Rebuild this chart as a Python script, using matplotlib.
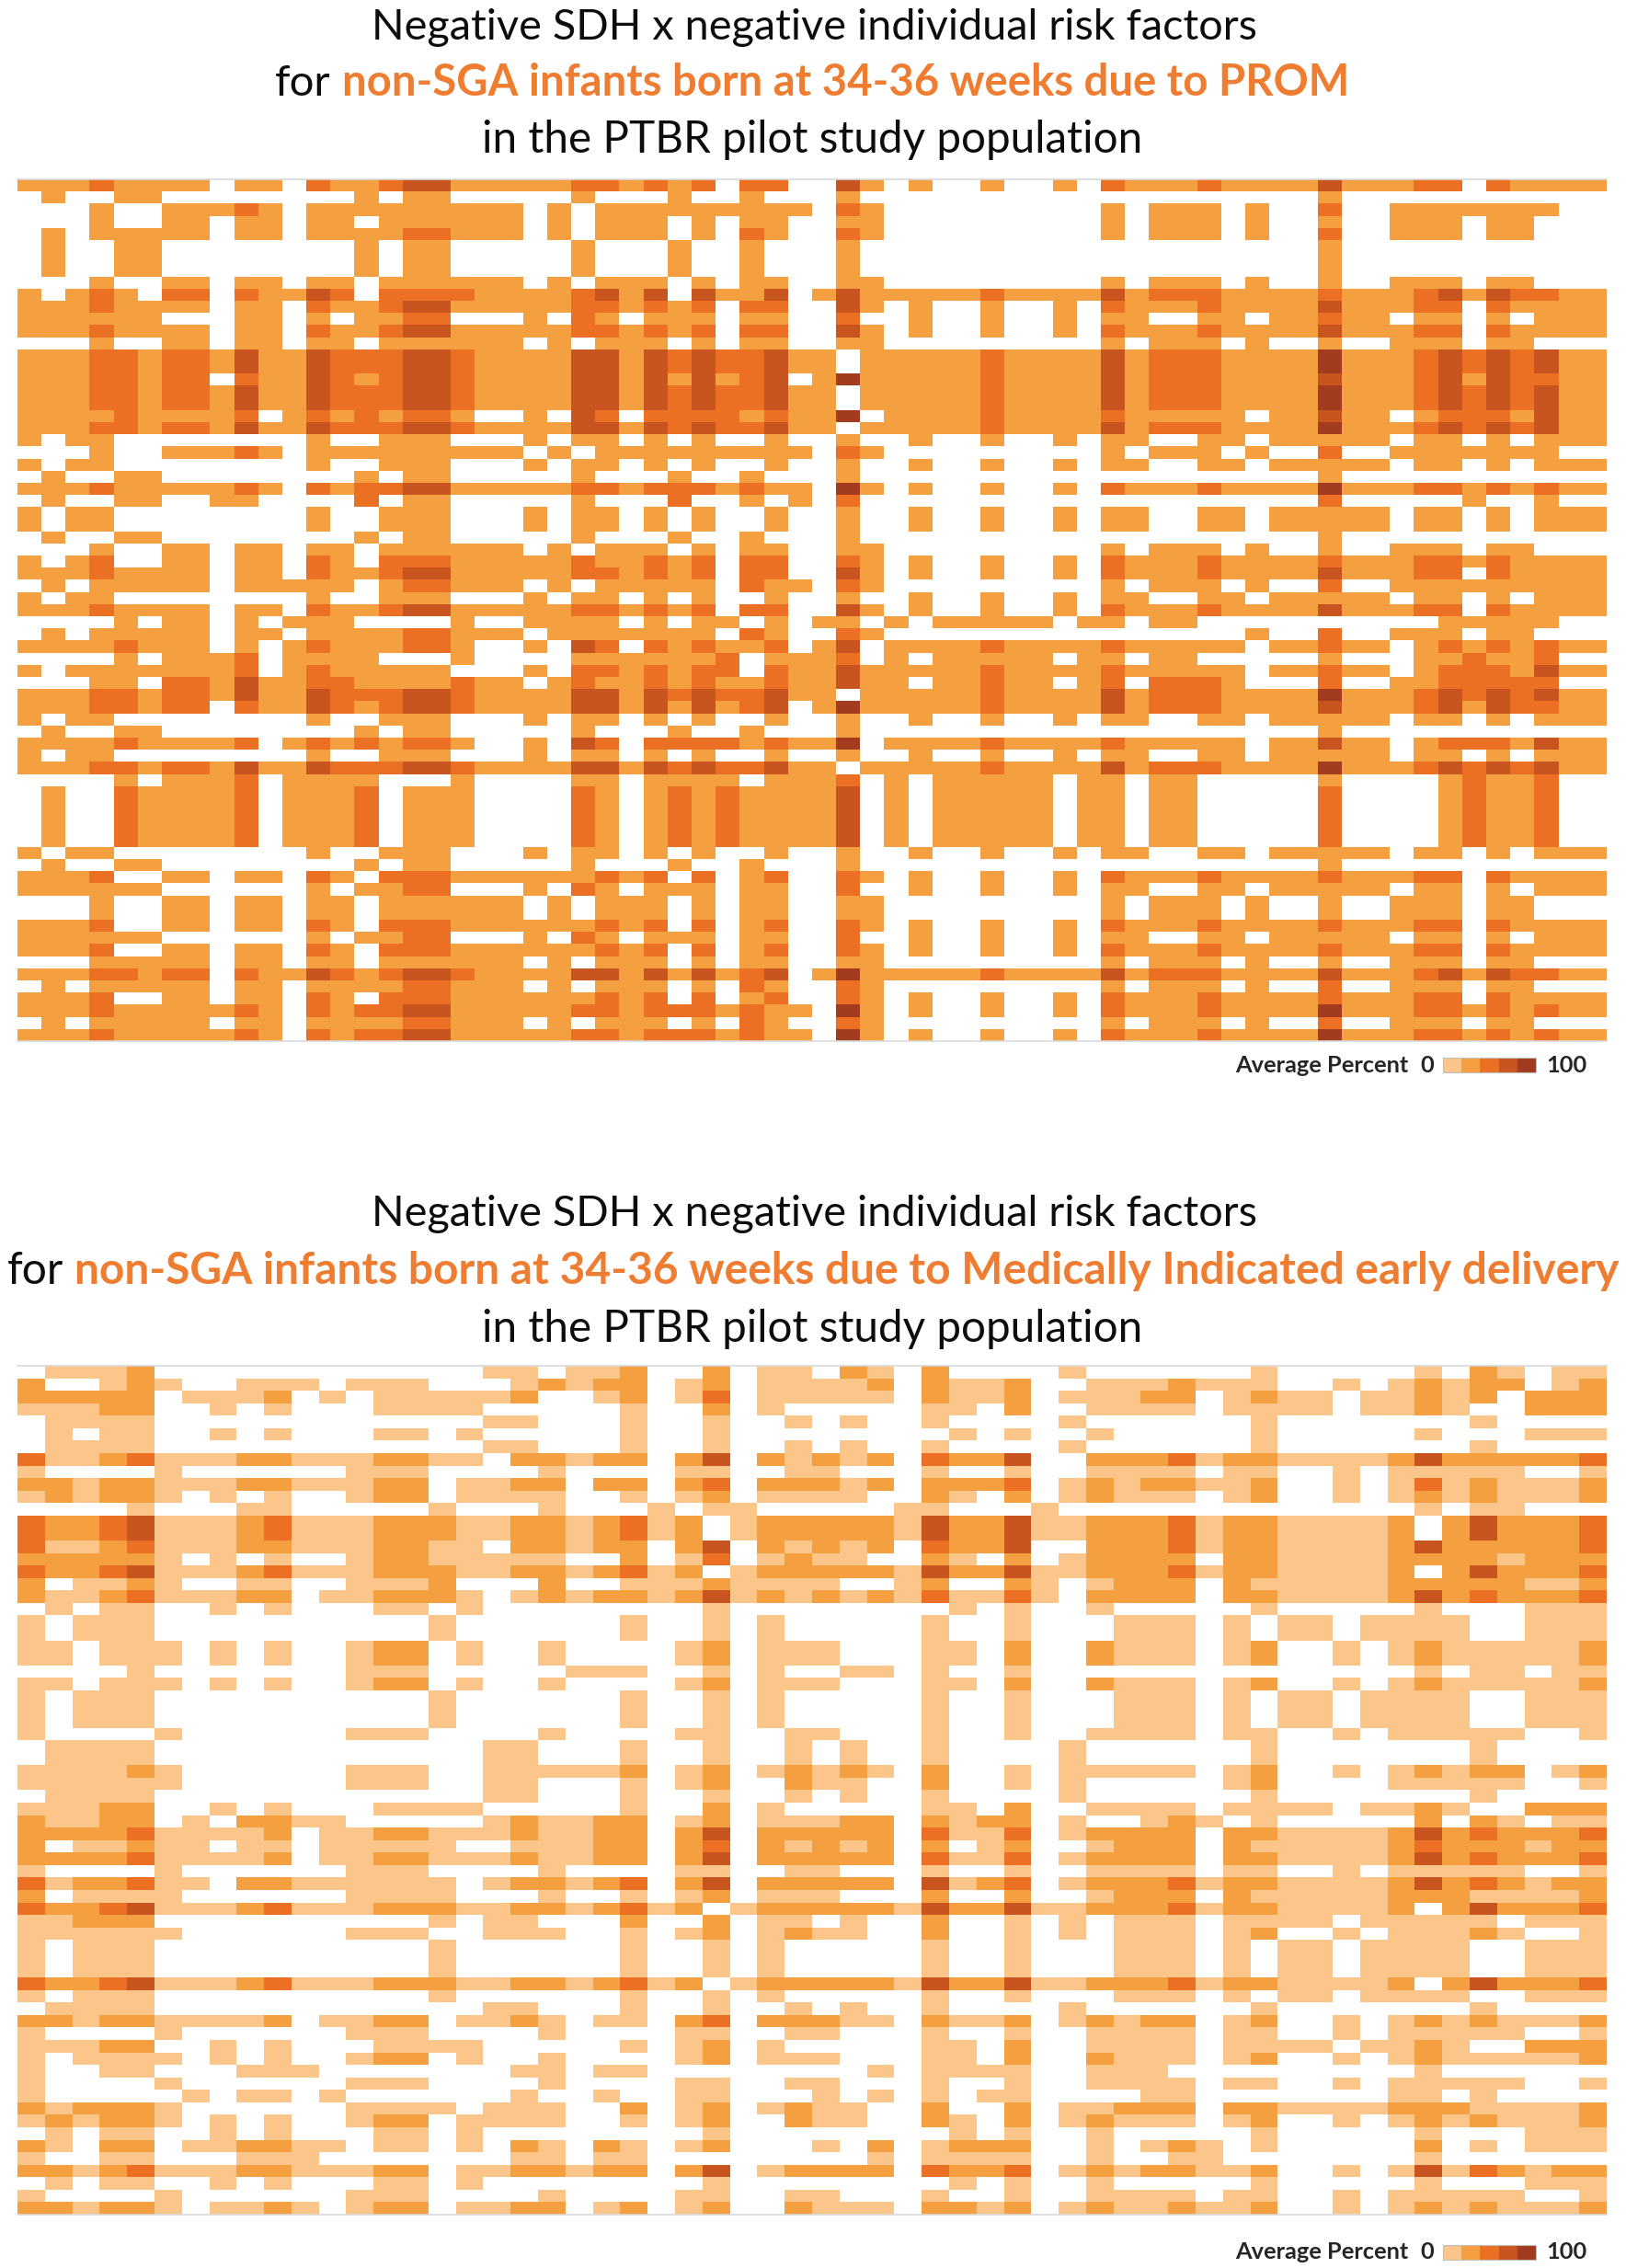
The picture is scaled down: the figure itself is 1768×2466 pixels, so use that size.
import matplotlib
matplotlib.use("Agg")
import matplotlib.pyplot as plt
import numpy as np
from matplotlib.colors import ListedColormap, BoundaryNorm

# ---------------------------------------------------------------------------
# DATA  (cell level: 0 = white/none, 1..5 = increasing "Average Percent" bins)
# each pattern = (left block, right block); spaces are only for readability
# ---------------------------------------------------------------------------
TOP_NCOLS = 66
TOP_PATTERNS = {
    "A":   ("2223 2222 0220 3223 4422 2223 3232 3033", "0042 0200 2002 0322 2322 2242 2233 0322 22"),
    "B":   ("0200 2200 0000 0020 2200 0002 0002 0020", "0020 0000 0000 0000 0000 0020 0000 0000 00"),
    "C":   ("0002 0022 2320 2222 2222 2020 2222 2222", "2032 0000 0000 0202 2202 0030 0222 2222 00"),
    "D":   ("0002 0022 0220 2202 2222 2020 2220 2022", "0022 0000 0000 0202 2202 0020 0222 0220 00"),
    "R4":  ("0202 2222 0220 2222 3322 2020 2220 2032", "0032 0000 0000 0202 2202 0030 0222 0220 00"),
    "R9":  ("2023 2033 0322 4303 3332 2223 4240 4224", "0242 2222 3222 2423 3322 2232 2234 2433 22"),
    "R11": ("2222 2200 0220 2022 3300 0203 2022 2022", "0030 0200 2002 0220 0220 2232 2022 0202 22"),
    "F":   ("2223 3233 2422 4333 4432 2224 4243 4334", "2202 2222 3222 2423 3322 2252 2234 3434 22"),
    "F2":  ("2223 3233 0322 4323 4432 2224 4242 4234", "0252 2222 3222 2423 3322 2242 2234 2433 22"),
    "G":   ("2222 3222 2302 3232 3320 0204 3033 3323", "2250 2222 3222 2322 2220 2242 2023 3324 22"),
    "E":   ("2022 0000 0000 2002 2200 0202 2020 2002", "0020 0200 2002 0220 0220 2222 2022 0202 22"),
    "H":   ("2223 2222 2320 3233 4422 2223 3233 3232", "2052 0200 2002 0322 2322 2252 2233 2323 22"),
    "R26": ("0200 2200 2200 0030 2200 0002 0003 0020", "2030 0000 0000 0000 0000 0030 0000 2002 00"),
    "R31": ("2023 0022 0220 3203 3322 2223 2232 3033", "0032 0200 2002 0322 2322 2232 2233 2322 22"),
    "R33": ("0202 2222 0222 2202 3322 2020 2222 2032", "2032 0000 0000 0202 2202 0030 0222 2222 22"),
    "R36": ("0000 2022 0202 2200 0020 0222 2020 2202", "0220 2022 2220 2202 2000 0000 0002 2222 00"),
    "R37": ("0202 2222 0220 2222 3322 2022 2222 2032", "0032 0000 0000 0000 0002 0030 0222 0220 00"),
    "R38": ("2222 3222 0202 3222 3320 0204 3032 3223", "0240 2222 3222 2322 2220 2232 2023 2323 22"),
    "R39": ("0000 2022 2302 2220 0020 0002 2222 2302", "2230 2022 2220 2202 2000 0020 0022 3223 00"),
    "R40": ("2022 2222 2302 3222 2200 0203 3232 3303", "2242 2222 3222 2322 2220 2232 2023 3324 22"),
    "R41": ("0002 2033 2422 3322 2232 2023 2232 3223", "2242 2022 3220 2303 3320 0030 0223 3333 00"),
    "R49": ("0000 2022 2302 2220 0020 0002 2022 2202", "2230 2022 2220 2202 2000 0020 0002 3223 00"),
    "R50": ("0200 3222 2302 2230 2220 0003 2023 2322", "2240 2022 2220 2202 2000 0030 0002 3223 00"),
    "I":   ("2223 0022 0220 3203 3322 2222 3230 3023", "0032 0200 2002 0322 2322 2232 2233 0322 22"),
    "R58": ("2222 2200 0000 2022 3300 0203 2022 2022", "0030 0200 2002 0220 0220 2222 2022 0202 22"),
    "R64": ("0002 2222 0220 2202 2222 2020 2220 2022", "0022 0000 0000 0202 2202 0020 0222 0220 00"),
}
TOP_ROWS = [
    "A", "B", "C", "D", "R4", "B", "B", "B", "D", "R9",
    "A", "R11", "A", "D", "F", "F", "F2", "F", "F", "G",
    "F", "E", "C", "E", "B", "H", "R26", "E", "E", "B",
    "D", "R31", "A", "R33", "E", "A", "R36", "R37", "R38", "R39",
    "R40", "R41", "F", "F2", "E", "B", "G", "E", "F", "R49",
    "R50", "R50", "R50", "R50", "R50", "E", "B", "I", "R58", "D",
    "D", "I", "R58", "I", "R64", "F2", "R4", "I", "H", "R4",
    "H",
]

BOT_NCOLS = 58
BOT_PATTERNS = {
    "b3":  ("1112 2001 0100 0111 1000 0010 0201", "0000 0110 2001 1110 1111 0112 1002 22"),
    "b4":  ("0111 1000 0000 0000 0110 0010 0100", "1010 0100 0010 0000 0100 0000 0100 00"),
    "b5":  ("0101 1001 0100 0110 1000 0010 0100", "0000 0010 1001 0000 0100 0001 0001 11"),
    "b7":  ("3112 3111 2211 1221 1022 1220 2402", "1212 0322 4002 2231 2211 1124 2222 23"),
    "b8":  ("1000 0100 0000 1110 0001 0000 1100", "1100 0100 1001 1110 1100 1011 1110 01"),
    "b12": ("3223 4111 2311 1222 1122 1231 2012", "2222 1422 4112 2231 2211 1120 2422 23"),
    "b19": ("0101 1001 0100 0110 1000 0000 0100", "0000 0010 1001 0000 0100 0001 0001 11"),
    "b20": ("1011 1000 0000 0001 0000 0010 0101", "0000 0100 1000 1110 1011 0111 1001 11"),
    "b22": ("1101 1101 0100 1220 1001 0000 1201", "1100 0110 2002 1110 1200 1012 1111 12"),
    "r0":  ("0111 2000 0000 0000 0110 1120 0201", "1021 0200 0010 0000 0100 0001 0210 11"),
    "r1":  ("2001 2100 1110 1110 0012 1220 1201", "1112 0211 2001 1121 1100 1012 1220 12"),
    "r2":  ("2222 2011 1201 0111 1120 0120 1301", "1111 0211 2011 1220 1211 0112 1202 22"),
    "r9":  ("2212 2111 2211 1220 1122 0220 2302", "2212 0222 3012 1221 1200 1013 1211 12"),
    "r10": ("1212 2101 0100 1220 1111 0010 1201", "1110 0210 2012 1110 1200 1012 1211 12"),
    "r11": ("0000 1000 1100 0001 0001 0001 0110", "0000 1100 0100 0000 0000 0001 0110 00"),
    "r15": ("2222 2101 0100 1221 1111 0020 1301", "2110 0210 2012 2220 2211 1122 2212 22"),
    "r17": ("2011 2100 1100 1112 0002 0011 1211", "1100 1200 2101 2220 2111 1122 2221 12"),
    "r18": ("2112 3111 2201 1222 1012 1221 2412", "1212 1311 3102 2220 2211 1124 2322 23"),
    "r24": ("0000 1000 0000 1110 0000 1110 0101", "0011 0100 1000 0000 0000 0001 0110 11"),
    "r32": ("1111 2100 0000 1110 0111 1120 1201", "2121 0200 1011 1110 1200 1012 1220 12"),
    "r33": ("1111 1100 0000 1110 0110 0010 1200", "2110 0200 1010 0000 1200 0011 1110 01"),
    "r36": ("2112 2010 2211 0000 0121 1220 1201", "1122 0212 2010 0121 0100 0002 0210 11"),
    "r37": ("2222 3111 1201 1221 1121 1220 2402", "2222 0311 3012 2220 2211 1124 2322 23"),
    "r38": ("2011 2110 1101 1111 0011 1220 2302", "1212 0201 2001 2220 2111 1123 2221 22"),
    "r41": ("3122 3110 2211 1111 0122 1230 2402", "2222 0412 3012 2231 2211 1124 2321 22"),
    "r42": ("2011 1100 0000 1111 0001 0010 1201", "1100 0200 2001 2220 2111 1122 2111 12"),
    "r44": ("1122 2000 0000 0001 0110 0020 0201", "1010 0200 1010 1110 1111 0111 1101 11"),
    "r45": ("1111 1100 0000 1110 0111 0010 1201", "2110 0200 1010 1110 1200 1011 1210 01"),
    "r52": ("2212 2111 1201 1220 1121 0110 2302", "2211 0211 2012 1220 1200 1012 1211 12"),
    "r54": ("1112 2001 0100 0111 1000 0010 1201", "0000 0110 2001 1110 1111 0112 1002 22"),
    "r55": ("1011 1101 0100 1220 1001 0000 1201", "1100 0110 2002 1110 1200 1012 1111 12"),
    "r56": ("1001 1000 1110 0000 0011 0110 0000", "0001 0111 1001 1100 0000 0001 0000 00"),
    "r58": ("1000 0010 1101 0000 0010 0100 1100", "0101 0101 1000 0110 0000 0011 0100 00"),
    "r59": ("2122 2100 0000 1111 0111 0020 1201", "2110 0200 2011 2220 2211 1122 2111 12"),
    "r60": ("1212 2101 0100 1220 1111 0010 1200", "2110 0210 2012 1110 1200 1012 1211 12"),
    "r62": ("2102 2011 2211 0110 1021 0210 1200", "0102 0122 2001 0121 0100 0002 0101 11"),
    "r63": ("1001 1000 1110 0000 0011 0110 0000", "0001 0111 1001 0011 0000 0001 0000 00"),
    "r64": ("2212 3111 2211 1220 1122 1220 2401", "2222 0322 3012 1221 1200 1014 1321 22"),
    "r67": ("2212 2101 1210 1220 1122 0120 1200", "2111 0221 2012 1121 1200 1012 1211 12"),
}
BOT_ROWS = [
    "r0", "r1", "r2", "b3", "b4", "b5", "b4", "b7", "b8", "r9",
    "r10", "r11", "b12", "b12", "b7", "r15", "b12", "r17", "r18", "b19",
    "b20", "b20", "b22", "b22", "r24", "b22", "b20", "b20", "b20", "b8",
    "b4", "b4", "r32", "r33", "b4", "b3", "r36", "r37", "r38", "r37",
    "b8", "r41", "r42", "b12", "r44", "r45", "b20", "b20", "b20", "b12",
    "b20", "b4", "r52", "b8", "r54", "r55", "r56", "b8", "r58", "r59",
    "r60", "b19", "r62", "r63", "r64", "b19", "b8", "r67",
]

LEVEL_COLORS = ["#FFFFFF", "#FCC589", "#F4A041", "#EB7024", "#C8551F", "#A23B1F"]
LEGEND_LEVELS = [1, 2, 3, 4, 5]

TITLE_LINE1 = "Negative SDH x negative individual risk factors"
TITLE_LINE3 = "in the PTBR pilot study population"
TOP_HIGHLIGHT = "non-SGA infants born at 34-36 weeks due to PROM"
BOT_HIGHLIGHT = "non-SGA infants born at 34-36 weeks due to Medically Indicated early delivery"
LEGEND_LABEL = "Average Percent"
LEGEND_MIN, LEGEND_MAX = "0", "100"

# ---------------------------------------------------------------------------
W, H = 1768, 2466
FONT = ["Lato", "DejaVu Sans"]
plt.rcParams["font.family"] = FONT
BLACK = "#0D0D0D"
ORANGE = "#EE7D31"

fig = plt.figure(figsize=(W / 100, H / 100), dpi=100)
fig.patch.set_facecolor("white")
renderer = fig.canvas.get_renderer()

cmap = ListedColormap(LEVEL_COLORS)
norm = BoundaryNorm(np.arange(-0.5, len(LEVEL_COLORS) + 0.5, 1), len(LEVEL_COLORS))


def build(patterns, keys, ncols):
    rows = []
    for k in keys:
        left, right = patterns[k]
        s = (left + right).replace(" ", "")
        vals = [int(c) for c in s][:ncols]
        vals += [0] * (ncols - len(vals))
        rows.append(vals)
    return np.array(rows)


def add_heatmap(mat, x0, y0, x1, y1):
    ax = fig.add_axes([x0 / W, 1 - y1 / H, (x1 - x0) / W, (y1 - y0) / H])
    ax.imshow(mat, cmap=cmap, norm=norm, aspect="auto", interpolation="nearest")
    ax.set_xticks([])
    ax.set_yticks([])
    for side in ("left", "right"):
        ax.spines[side].set_visible(False)
    for side in ("top", "bottom"):
        ax.spines[side].set_color("#D9D9D9")
        ax.spines[side].set_linewidth(1.2)
    return ax


def text_width(s, size, weight):
    t = fig.text(0, 0, s, fontsize=size, fontweight=weight)
    w = t.get_window_extent(renderer).width
    t.remove()
    return w


def title_line(parts, cx, baseline, target_w, base=30.0):
    def widths(size):
        ws = []
        for s, _c, wt in parts:
            w = text_width(s.rstrip(), size, wt)
            if s.endswith(" "):
                w += text_width("n n", size, wt) - 2 * text_width("n", size, wt)
            ws.append(w)
        return ws

    ws = widths(base)
    size = base * target_w / sum(ws)
    ws = widths(size)
    x = cx - sum(ws) / 2
    for (s, c, wt), w in zip(parts, ws):
        fig.text(x / W, 1 - baseline / H, s.rstrip(), fontsize=size, color=c,
                 fontweight=wt, ha="left", va="baseline")
        x += w


def legend(cy):
    size = 15.5 * 188 / text_width(LEGEND_LABEL, 15.5, "bold")
    fig.text(1531 / W, 1 - cy / H, LEGEND_LABEL, fontsize=size, fontweight="bold",
             color="#262626", ha="right", va="center")
    fig.text(1552 / W, 1 - cy / H, LEGEND_MIN, fontsize=size, fontweight="bold",
             color="#262626", ha="center", va="center")
    fig.text(1681 / W, 1 - cy / H, LEGEND_MAX, fontsize=size, fontweight="bold",
             color="#262626", ha="left", va="center")
    lax = fig.add_axes([1569 / W, 1 - (cy + 8) / H, 101 / W, 16 / H])
    lax.imshow([LEGEND_LEVELS], cmap=cmap, norm=norm, aspect="auto", interpolation="nearest")
    lax.set_xticks([])
    lax.set_yticks([])
    for sp in lax.spines.values():
        sp.set_color("#BFBFBF")
        sp.set_linewidth(0.8)


top = build(TOP_PATTERNS, TOP_ROWS, TOP_NCOLS)
bot = build(BOT_PATTERNS, BOT_ROWS, BOT_NCOLS)

# ---- top panel ----
title_line([(TITLE_LINE1, BLACK, "normal")], 885, 43, 961)
title_line([("for ", BLACK, "normal"), (TOP_HIGHLIGHT, ORANGE, "bold")], 883, 104, 1167)
title_line([(TITLE_LINE3, BLACK, "normal")], 883, 166, 716)
add_heatmap(top, 19, 195, 1747, 1132)
legend(1158)

# ---- bottom panel ----
title_line([(TITLE_LINE1, BLACK, "normal")], 885, 1333, 961)
title_line([("for ", BLACK, "normal"), (BOT_HIGHLIGHT, ORANGE, "bold")], 884, 1396, 1751)
title_line([(TITLE_LINE3, BLACK, "normal")], 883, 1459, 716)
add_heatmap(bot, 19, 1485, 1747, 2408)
legend(2449)

fig.savefig("out.png", dpi=100, facecolor="white")
